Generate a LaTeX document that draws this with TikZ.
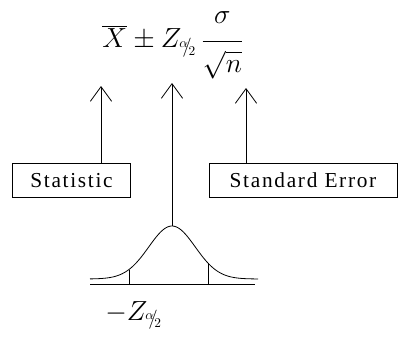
\documentclass[tikz,border=0pt]{standalone}
\usepackage{fontspec}
\setmainfont{Liberation Serif}
\newfontfamily\boxfont[LetterSpace=8]{Liberation Serif}
\usetikzlibrary{arrows.meta}
\newcommand{\ahalf}{{}^{\alpha}\!\!/\!{}_{2}}
\newcommand{\xbar}{\mathord{\vbox{\hrule height 0.6pt\kern1.6pt\hbox{$X$}}}}

\begin{document}
\begin{tikzpicture}[x=0.75pt, y=0.75pt, semithick,
    barb/.style={-{Straight Barb[length=11pt,width=16pt]}},
    label box/.style={draw, minimum height=26pt, inner sep=2pt, font=\boxfont\fontsize{16}{18}\selectfont},
    big math/.style={font=\fontsize{20}{24}\selectfont}]
  \useasboundingbox (0,0) rectangle (398,336);

  % Interval formula
  \node[big math, anchor=base] (ci) at (173,288) {$\displaystyle\xbar\pm Z_{\ahalf}\,\frac{\raisebox{4pt}{$\sigma$}}{\raisebox{-4pt}{$\sqrt{n}$}}$};

  % Label boxes
  \node[label box, minimum width=88pt] (stat) at (71.5,155.5) {Statistic};
  \node[label box, minimum width=141pt] (err) at (303,155.5) {Standard Error};

  % Bell curve on its axis
  \draw[domain=-82:86, samples=80, smooth] plot ({172+\x}, {57+53*exp(-(\x)^2/1076)});
  \draw (90,52) -- (255,52);
  \foreach \d in {-43,36}
    \draw ({172+\d},52) -- ({172+\d},{57+53*exp(-(\d)^2/1076)});
  \coordinate (peak) at (172,110);

  % Arrows up to the formula
  \coordinate (tipL) at (101,250);
  \coordinate (tipM) at (172,253);
  \coordinate (tipR) at (246,248);
  \draw[barb] (tipL |- stat.north) -- (tipL);
  \draw[barb] (peak) -- (tipM);
  \draw[barb] (tipR |- err.north) -- (tipR);

  % Critical value
  \node[big math, anchor=base west, inner sep=0pt] (zlow) at (105,16) {$-Z_{\ahalf}$};
\end{tikzpicture}
\end{document}
